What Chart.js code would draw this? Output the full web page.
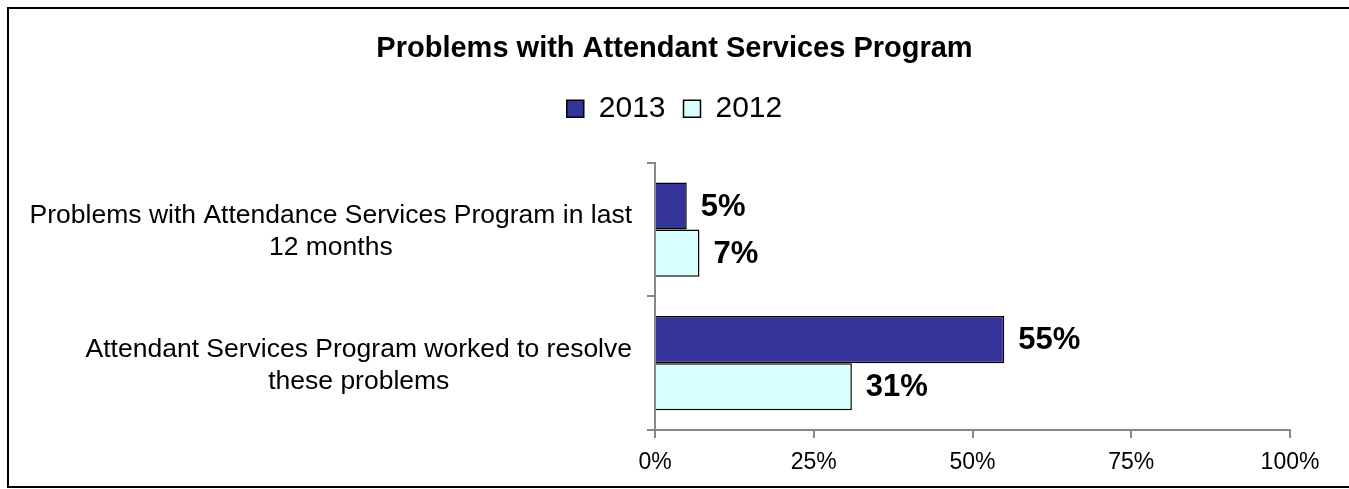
<!DOCTYPE html>
<html>
<head>
<meta charset="utf-8">
<title>Problems with Attendant Services Program</title>
<script src="https://cdn.jsdelivr.net/npm/chart.js@4"></script>
<style>
    body { margin: 0; background: #fff; overflow: hidden; }
    #frame {
        position: absolute; left: 7px; top: 7px;
        width: 1360px; height: 481px;
        border: 2px solid #000; box-sizing: border-box;
    }
    #surveyChart { position: absolute; left: 0; top: 0; }
</style>
</head>
<body>
<div id="frame"></div>
<canvas id="surveyChart" width="1349" height="489"></canvas>
<script>
const CATEGORIES = [
    ['Problems with Attendance Services Program in last', '12 months'],
    ['Attendant Services Program worked to resolve', 'these problems']
];
const YEARS = ['2013', '2012'];
const VALUES_2013 = [5, 55];
const VALUES_2012 = [7, 31];
const X_TICK_STEP = 25;
const X_MAX = 100;

const FONT_FAMILY = "'Liberation Sans', Arial, sans-serif";
const AXIS_GREY = '#888888';

// extra room between the legend and the plot
const legendGap = {
    id: 'legendGap',
    beforeInit(chart) {
        const originalFit = chart.legend.fit;
        chart.legend.fit = function fit() {
            originalFit.call(this);
            this.height += 29;
        };
    }
};

// percentage printed to the right of each bar
const barValueLabels = {
    id: 'barValueLabels',
    afterDatasetsDraw(chart) {
        const ctx = chart.ctx;
        ctx.save();
        ctx.font = 'bold 31px ' + FONT_FAMILY;
        ctx.fillStyle = '#000';
        ctx.textAlign = 'left';
        ctx.textBaseline = 'middle';
        chart.data.datasets.forEach((dataset, d) => {
            chart.getDatasetMeta(d).data.forEach((bar, i) => {
                ctx.fillText(dataset.data[i] + '%', bar.x + 14, bar.y + 1);
            });
        });
        ctx.restore();
    }
};

// category names, each block centred on its longest line
const categoryLabels = {
    id: 'categoryLabels',
    afterDraw(chart) {
        const ctx = chart.ctx;
        const yScale = chart.scales.y;
        const right = chart.chartArea.left - 23;
        const lineHeight = 32;
        ctx.save();
        ctx.font = '26.5px ' + FONT_FAMILY;
        ctx.fillStyle = '#000';
        ctx.textAlign = 'center';
        ctx.textBaseline = 'middle';
        CATEGORIES.forEach((lines, i) => {
            const widest = Math.max(...lines.map(l => ctx.measureText(l).width));
            const cx = right - widest / 2;
            const cy = yScale.getPixelForValue(i) + 2;
            lines.forEach((line, j) => {
                ctx.fillText(line, cx, cy + (j - (lines.length - 1) / 2) * lineHeight);
            });
        });
        ctx.restore();
    }
};

function renderSurveyChart() {
    Chart.defaults.font.family = FONT_FAMILY;
    Chart.defaults.color = '#000';

    const ctx = document.getElementById('surveyChart');

    new Chart(ctx, {
        type: 'bar',
        data: {
            labels: CATEGORIES,
            datasets: [{
                label: YEARS[0],
                data: VALUES_2013,
                backgroundColor: '#333399',
                borderColor: '#000',
                borderWidth: 1.5
            }, {
                label: YEARS[1],
                data: VALUES_2012,
                backgroundColor: '#D9FFFF',
                borderColor: '#000',
                borderWidth: 1.5
            }]
        },
        options: {
            indexAxis: 'y',
            responsive: false,
            animation: false,
            // equal side padding keeps the title and legend centred on the page
            layout: { padding: { left: 59, right: 59, top: 0, bottom: 0 } },
            datasets: {
                bar: { categoryPercentage: 0.705, barPercentage: 1.0 }
            },
            scales: {
                x: {
                    min: 0,
                    max: X_MAX,
                    ticks: {
                        stepSize: X_TICK_STEP,
                        padding: 11,
                        font: { size: 23 },
                        maxRotation: 0,
                        callback: v => v + '%'
                    },
                    grid: {
                        drawOnChartArea: false,
                        color: AXIS_GREY,
                        lineWidth: 2,
                        tickLength: 8
                    },
                    border: { color: AXIS_GREY, width: 2 },
                    afterFit(scale) { scale.height = 59; }
                },
                y: {
                    ticks: { display: false },
                    grid: {
                        drawOnChartArea: false,
                        color: AXIS_GREY,
                        lineWidth: 2,
                        tickLength: 8
                    },
                    border: { color: AXIS_GREY, width: 2 },
                    afterFit(scale) { scale.width = 596; }
                }
            },
            plugins: {
                title: {
                    display: true,
                    text: 'Problems with Attendant Services Program',
                    font: { size: 29, weight: 'bold' },
                    padding: { top: 32, bottom: 9 }
                },
                legend: {
                    display: true,
                    position: 'top',
                    labels: {
                        font: { size: 30 },
                        boxWidth: 17,
                        boxHeight: 17,
                        padding: 18
                    }
                },
                tooltip: { enabled: false }
            }
        },
        plugins: [legendGap, barValueLabels, categoryLabels]
    });
}

renderSurveyChart();
</script>
</body>
</html>
